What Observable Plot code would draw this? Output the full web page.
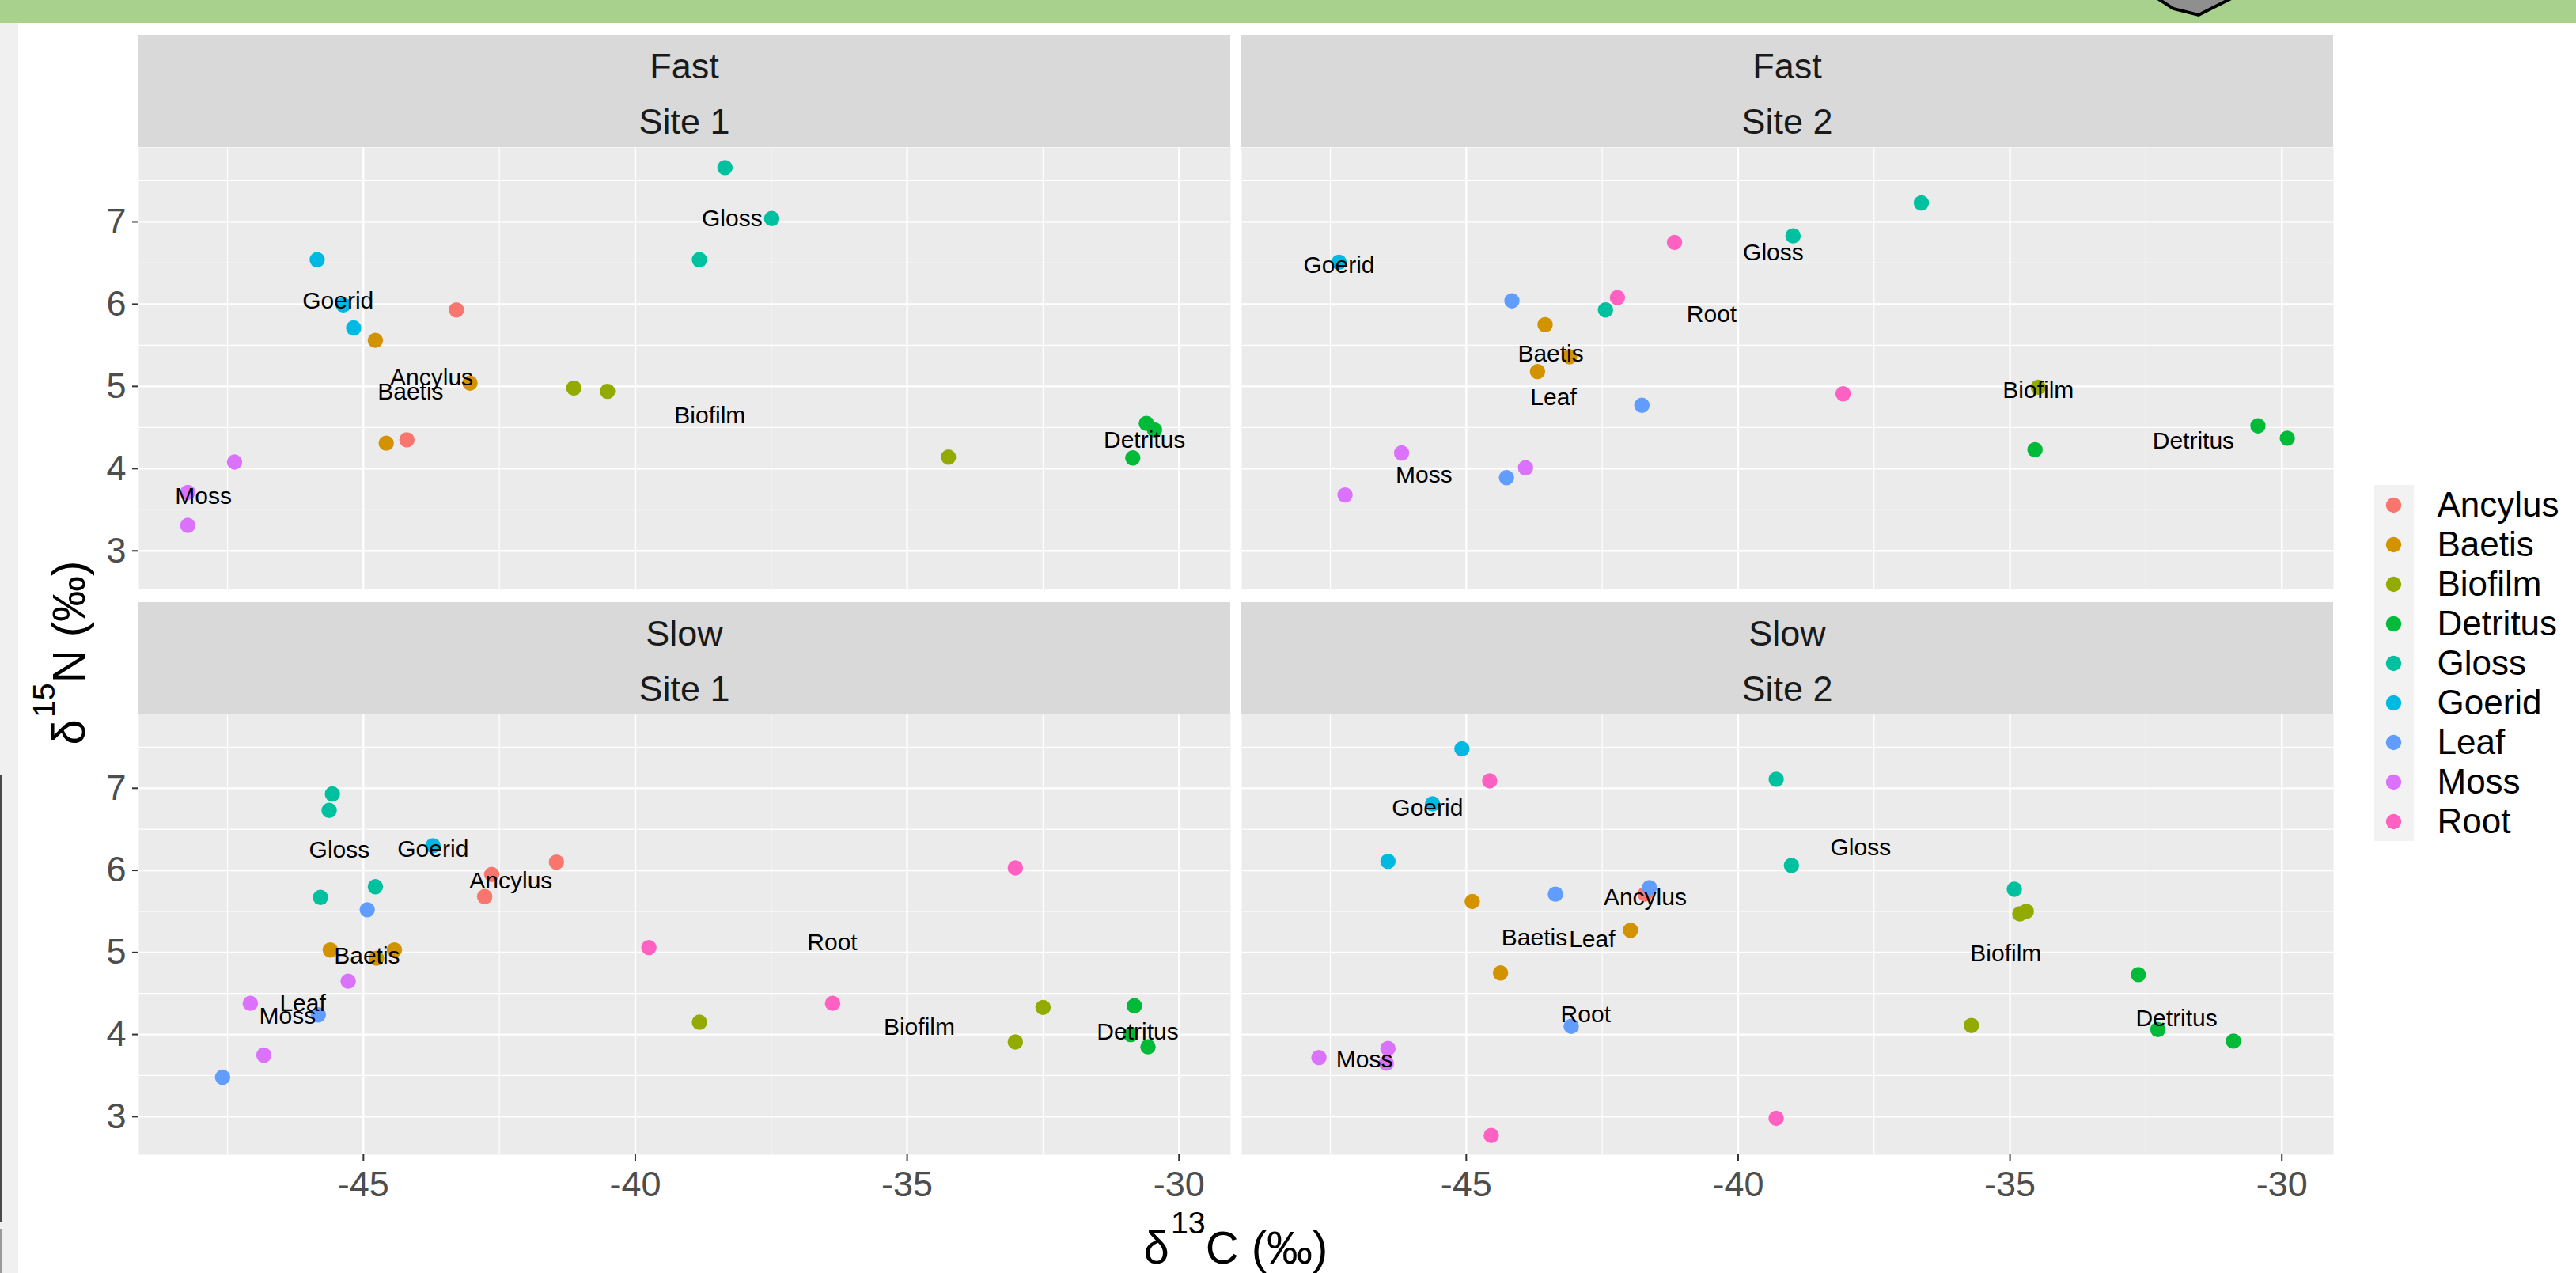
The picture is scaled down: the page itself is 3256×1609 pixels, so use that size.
<!DOCTYPE html>
<html>
<head>
<meta charset="utf-8">
<script src="https://cdn.jsdelivr.net/npm/d3@7"></script>
<script src="https://cdn.jsdelivr.net/npm/@observablehq/plot@0.6"></script>
<style>
html,body{margin:0;padding:0;background:#fff;}
#root{position:relative;width:3256px;height:1609px;overflow:hidden;background:#fff;font-family:"Liberation Sans",Arial,sans-serif;}
.abs{position:absolute;}
.strip{position:absolute;background:#d9d9d9;color:#1a1a1a;font-size:45px;}
.strip div{position:absolute;left:0;right:0;text-align:center;line-height:1;white-space:nowrap;}
.title{position:absolute;color:#000;font-size:58px;line-height:1;white-space:nowrap;}
.sup{font-size:0.68em;position:relative;top:-38px;margin-left:2px;}
</style>
</head>
<body>
<div id="root"></div>
<script>
// ---------------- data ----------------
const taxa = ["Ancylus","Baetis","Biofilm","Detritus","Gloss","Goerid","Leaf","Moss","Root"];
const speeds = ["Fast","Slow"];
const sites = ["Site 1","Site 2"];
const xTicks = [-45,-40,-35,-30];
const yTicks = [3,4,5,6,7];

// [taxon, d13C, d15N]
const fastSite1 = [
  ["Gloss",-38.35,7.66],["Gloss",-37.49,7.04],["Gloss",-38.82,6.54],
  ["Goerid",-45.85,6.54],["Goerid",-45.37,5.99],["Goerid",-45.18,5.71],
  ["Ancylus",-43.29,5.93],["Ancylus",-44.20,4.35],
  ["Baetis",-44.78,5.56],["Baetis",-43.04,5.04],["Baetis",-44.58,4.31],
  ["Biofilm",-41.13,4.98],["Biofilm",-40.51,4.94],["Biofilm",-34.24,4.14],
  ["Detritus",-30.60,4.55],["Detritus",-30.45,4.47],["Detritus",-30.85,4.13],
  ["Moss",-47.37,4.08],["Moss",-48.23,3.71],["Moss",-48.23,3.31]
];
const fastSite2 = [
  ["Gloss",-36.63,7.23],["Gloss",-38.99,6.83],["Gloss",-42.44,5.93],
  ["Root",-41.17,6.75],["Root",-42.22,6.08],["Root",-38.07,4.91],
  ["Goerid",-47.34,6.51],
  ["Leaf",-44.16,6.04],["Leaf",-41.77,4.77],["Leaf",-44.26,3.89],
  ["Baetis",-43.55,5.75],["Baetis",-43.10,5.36],["Baetis",-43.69,5.18],
  ["Biofilm",-34.48,4.99],
  ["Detritus",-30.44,4.52],["Detritus",-29.90,4.37],["Detritus",-34.54,4.23],
  ["Moss",-46.19,4.19],["Moss",-43.91,4.01],["Moss",-47.23,3.68]
];
const slowSite1 = [
  ["Gloss",-45.57,6.93],["Gloss",-45.63,6.73],["Gloss",-44.78,5.80],["Gloss",-45.79,5.67],
  ["Goerid",-43.72,6.30],
  ["Ancylus",-41.45,6.10],["Ancylus",-42.64,5.95],["Ancylus",-42.77,5.68],
  ["Root",-33.01,6.03],["Root",-39.75,5.06],["Root",-36.37,4.38],
  ["Leaf",-44.93,5.52],["Leaf",-45.83,4.24],["Leaf",-47.59,3.48],
  ["Baetis",-45.61,5.03],["Baetis",-44.43,5.03],["Baetis",-44.76,4.93],
  ["Moss",-45.28,4.65],["Moss",-47.08,4.38],["Moss",-46.83,3.75],
  ["Biofilm",-38.82,4.15],["Biofilm",-32.50,4.33],["Biofilm",-33.01,3.91],
  ["Detritus",-30.82,4.35],["Detritus",-30.89,4.00],["Detritus",-30.57,3.85]
];
const slowSite2 = [
  ["Goerid",-45.08,7.48],["Goerid",-45.62,6.81],["Goerid",-46.44,6.11],
  ["Root",-44.57,7.09],["Root",-39.30,2.98],["Root",-44.54,2.77],
  ["Gloss",-39.30,7.11],["Gloss",-39.02,6.06],["Gloss",-34.92,5.77],
  ["Biofilm",-34.82,5.47],["Biofilm",-34.70,5.50],["Biofilm",-35.71,4.11],
  ["Baetis",-44.89,5.62],["Baetis",-41.98,5.27],["Baetis",-44.37,4.75],
  ["Leaf",-43.36,5.71],["Leaf",-41.63,5.79],["Leaf",-43.07,4.10],
  ["Ancylus",-41.71,5.71],
  ["Detritus",-32.64,4.73],["Detritus",-32.28,4.06],["Detritus",-30.89,3.92],
  ["Moss",-47.71,3.72],["Moss",-46.44,3.83],["Moss",-46.47,3.65]
];

// ---------------- styling ----------------
const palette = ["#F8766D","#D39200","#93AA00","#00BA38","#00C19F","#00B9E3","#619CFF","#DB72FB","#FF61C3"];
const xDomain = [-49.13, -29.05];
const yDomain = [2.536, 7.904];
const font = '"Liberation Sans", Arial, sans-serif';
const PW = 1380, ML = 175, MB = 80;

const root = document.getElementById("root");
function add(html){ root.insertAdjacentHTML("beforeend", html); }

// screenshot surroundings
add(`<div class="abs" style="left:0;top:0;width:3256px;height:29px;background:#a9d18e"></div>`);
add(`<svg class="abs" style="left:2700px;top:0" width="160" height="30"><polygon points="18,-8 47,11 79,19 132,-8" fill="#8f8f8f" stroke="#000" stroke-width="4" stroke-linejoin="miter"/></svg>`);
add(`<div class="abs" style="left:0;top:29px;width:23px;height:1580px;background:#f0f0f0"></div>`);
add(`<div class="abs" style="left:0;top:980px;width:3px;height:565px;background:#4a4a4a"></div>`);
add(`<div class="abs" style="left:0;top:1554px;width:3px;height:55px;background:#9a9a9a"></div>`);

function meanLabels(data){
  return d3.rollups(data, v => [d3.mean(v, d => d[1]), d3.mean(v, d => d[2])], d => d[0])
    .map(([t,[x,y]]) => ({t, x, y}));
}

function panel(data, showY, showX){
  const pts = data.slice().sort((a,b) => taxa.indexOf(a[0]) - taxa.indexOf(b[0]));
  const minorX = [-47.5,-42.5,-37.5,-32.5];
  const minorY = [3.5,4.5,5.5,6.5,7.5];
  return Plot.plot({
    width: (showY ? ML : 0) + PW,
    height: (showX ? 557 + MB : 558),
    marginLeft: showY ? ML : 0, marginRight: 0, marginTop: 0, marginBottom: showX ? MB : 0,
    x: {domain: xDomain, axis: null},
    y: {domain: yDomain, axis: null},
    color: {domain: taxa, range: palette},
    style: {fontFamily: font, background: "transparent", overflow: "visible"},
    marks: [
      Plot.frame({fill: "#ebebeb", stroke: "none"}),
      Plot.gridX(minorX, {stroke: "#ffffff", strokeOpacity: 1, strokeWidth: 1.2}),
      Plot.gridY(minorY, {stroke: "#ffffff", strokeOpacity: 1, strokeWidth: 1.2}),
      Plot.gridX(xTicks, {stroke: "#ffffff", strokeOpacity: 1, strokeWidth: 2.3}),
      Plot.gridY(yTicks, {stroke: "#ffffff", strokeOpacity: 1, strokeWidth: 2.3}),
      showY ? Plot.axisY(yTicks, {tickSize: 8, tickPadding: 8, fontSize: 45, fill: "#4d4d4d", stroke: "#333333", strokeWidth: 2, label: null, tickFormat: d => String(d)}) : null,
      showX ? Plot.axisX(xTicks, {tickSize: 8, tickPadding: 13, fontSize: 45, fill: "#4d4d4d", stroke: "#333333", strokeWidth: 2, label: null, tickFormat: d => String(d)}) : null,
      Plot.dot(pts, {x: d => d[1], y: d => d[2], fill: d => d[0], r: 9.7, stroke: "none"}),
      Plot.text(meanLabels(data), {x: "x", y: "y", text: "t", fontSize: 30, fill: "#000", dy: 4, fontFamily: font})
    ]
  });
}

function place(node, left, top){
  const d = document.createElement("div");
  d.className = "abs";
  d.style.left = left + "px"; d.style.top = top + "px";
  d.appendChild(node);
  root.appendChild(d);
}

function strip(left, top, h, speed, site){
  add(`<div class="strip" style="left:${left}px;top:${top}px;width:${PW}px;height:${h}px"><div style="top:17px">${speed}</div><div style="top:87px">${site}</div></div>`);
}

strip(175, 44, 142, speeds[0], sites[0]);
strip(1569, 44, 142, speeds[0], sites[1]);
strip(175, 761, 141, speeds[1], sites[0]);
strip(1569, 761, 141, speeds[1], sites[1]);

place(panel(fastSite1, true, false), 0, 186);
place(panel(fastSite2, false, false), 1569, 186);
place(panel(slowSite1, true, true), 0, 902);
place(panel(slowSite2, false, true), 1569, 902);

// axis titles
add(`<div class="title" style="left:1562px;top:1548px;transform:translateX(-50%)">&delta;<span class="sup">13</span>C (&permil;)</div>`);
add(`<div class="title" style="left:87px;top:825px;transform:translate(-50%,-50%) rotate(-90deg)">&delta;<span class="sup">15</span>N (&permil;)</div>`);

// legend
add(`<div class="abs" style="left:3001px;top:613px;width:50px;height:450px;background:#f2f2f2"></div>`);
const legend = Plot.plot({
  width: 255, height: 450, margin: 0,
  y: {type: "band", domain: taxa, padding: 0, axis: null},
  color: {domain: taxa, range: palette},
  style: {fontFamily: font, background: "transparent", overflow: "visible"},
  marks: [
    Plot.dot(taxa, {y: d => d, fill: d => d, r: 9.7, frameAnchor: "left", dx: 24}),
    Plot.text(taxa, {y: d => d, text: d => d, frameAnchor: "left", dx: 79, textAnchor: "start", fontSize: 44, fill: "#000", fontFamily: font})
  ]
});
place(legend, 3001, 613);
</script>
</body>
</html>
